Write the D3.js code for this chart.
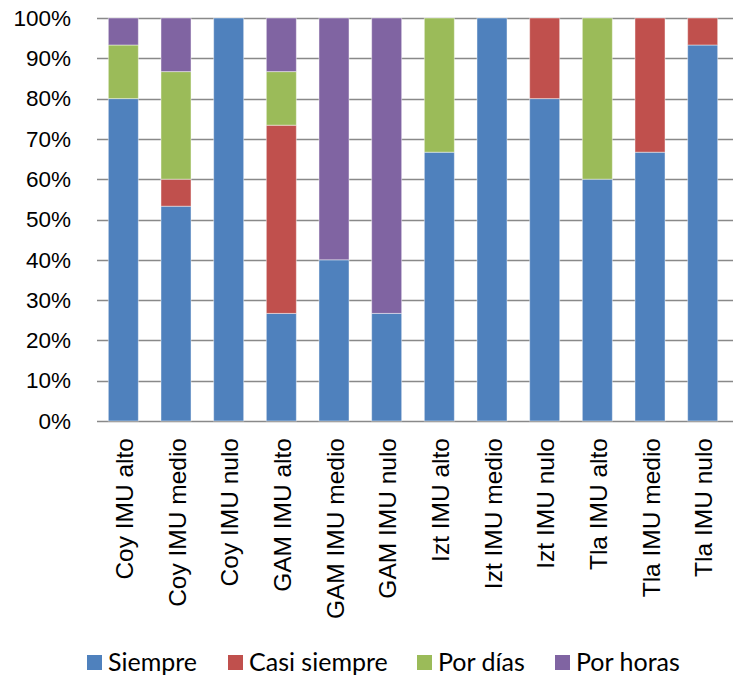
<!DOCTYPE html>
<html>
<head>
<meta charset="utf-8">
<script src="https://cdn.jsdelivr.net/npm/d3@7"></script>
<style>
  body { margin: 0; background: #fff; }
  svg { display: block; }
</style>
</head>
<body>
<div id="chart"></div>
<script>
// categories and series (percent of answers)
var categories = ["Coy IMU alto", "Coy IMU medio", "Coy IMU nulo", "GAM IMU alto", "GAM IMU medio", "GAM IMU nulo",
                  "Izt IMU alto", "Izt IMU medio", "Izt IMU nulo", "Tla IMU alto", "Tla IMU medio", "Tla IMU nulo"];
var seriesNames = ["Siempre", "Casi siempre", "Por días", "Por horas"];
var siempre     = [80, 53.3, 100, 26.7, 40, 26.7, 66.7, 100, 80, 60, 66.7, 93.3];
var casiSiempre = [0, 6.7, 0, 46.7, 0, 0, 0, 0, 20, 0, 33.3, 6.7];
var porDias     = [13.3, 26.7, 0, 13.3, 0, 0, 33.3, 0, 0, 40, 0, 0];
var porHoras    = [6.7, 13.3, 0, 13.3, 60, 73.3, 0, 0, 0, 0, 0, 0];
var yTicks = [0, 10, 20, 30, 40, 50, 60, 70, 80, 90, 100];
var colors = ["#4F81BD", "#C0504D", "#9BBB59", "#8064A2"];

var width = 733, height = 678;
var plot = {left: 97, right: 729, top: 18, bottom: 421};

var svg = d3.select("#chart").append("svg")
    .attr("width", width)
    .attr("height", height);

var rows = categories.map(function(c, i) {
    var r = {cat: c};
    r[seriesNames[0]] = siempre[i];
    r[seriesNames[1]] = casiSiempre[i];
    r[seriesNames[2]] = porDias[i];
    r[seriesNames[3]] = porHoras[i];
    return r;
});

var x = d3.scaleBand()
    .domain(categories)
    .range([plot.left, plot.right])
    .paddingInner(0.43)
    .paddingOuter(0.215);

var y = d3.scaleLinear()
    .domain([0, 100])
    .range([plot.bottom, plot.top]);

// gridlines
svg.append("g")
    .selectAll("line")
    .data(yTicks)
    .enter()
    .append("line")
    .attr("x1", plot.left)
    .attr("x2", width)
    .attr("y1", function(d) { return Math.round(y(d)) + 0.5; })
    .attr("y2", function(d) { return Math.round(y(d)) + 0.5; })
    .attr("stroke", "#898989")
    .attr("stroke-width", 1.3);

// y axis labels
var yAxis = d3.axisLeft(y)
    .tickValues(yTicks)
    .tickFormat(function(d) { return d + "%"; })
    .tickSize(0)
    .tickPadding(0);

svg.append("g")
    .attr("transform", "translate(71,0)")
    .call(yAxis)
    .call(function(g) { g.select(".domain").remove(); })
    .selectAll("text")
    .attr("font-family", "Liberation Sans, Arial, sans-serif")
    .attr("font-size", 22.5)
    .attr("fill", "#000");

// stacked bars
var stacked = d3.stack().keys(seriesNames)(rows);

svg.append("g")
    .selectAll("g")
    .data(stacked)
    .enter()
    .append("g")
    .attr("fill", function(d, i) { return colors[i]; })
    .selectAll("rect")
    .data(function(d) { return d; })
    .enter()
    .append("rect")
    .attr("x", function(d) { return x(d.data.cat); })
    .attr("width", x.bandwidth())
    .attr("y", function(d) { return y(d[1]); })
    .attr("height", function(d) { return y(d[0]) - y(d[1]); })
    .attr("stroke", "rgba(255,255,255,0.45)")
    .attr("stroke-width", 1);

// x axis labels, rotated
var xAxis = d3.axisBottom(x).tickSize(0).tickPadding(0);
svg.append("g")
    .attr("transform", "translate(0," + plot.bottom + ")")
    .call(xAxis)
    .call(function(g) { g.select(".domain").remove(); })
    .selectAll("text")
    .attr("font-family", "Liberation Sans, Arial, sans-serif")
    .attr("font-size", 24.5)
    .attr("fill", "#000")
    .attr("text-anchor", "end")
    .attr("transform", "translate(1,17) rotate(-90)")
    .attr("dx", 0)
    .attr("dy", "0.35em")
    .attr("y", 0);

// legend
var legendX = [87, 228, 417, 555];
var legend = svg.append("g")
    .selectAll("g")
    .data(seriesNames)
    .enter()
    .append("g")
    .attr("transform", function(d, i) { return "translate(" + legendX[i] + ",655)"; });

legend.append("rect")
    .attr("width", 15)
    .attr("height", 15)
    .attr("fill", function(d, i) { return colors[i]; });

legend.append("text")
    .attr("x", 21)
    .attr("y", 15.5)
    .attr("font-family", "Lato, sans-serif")
    .attr("font-size", 25)
    .attr("fill", "#000")
    .text(function(d) { return d; });
</script>
</body>
</html>
